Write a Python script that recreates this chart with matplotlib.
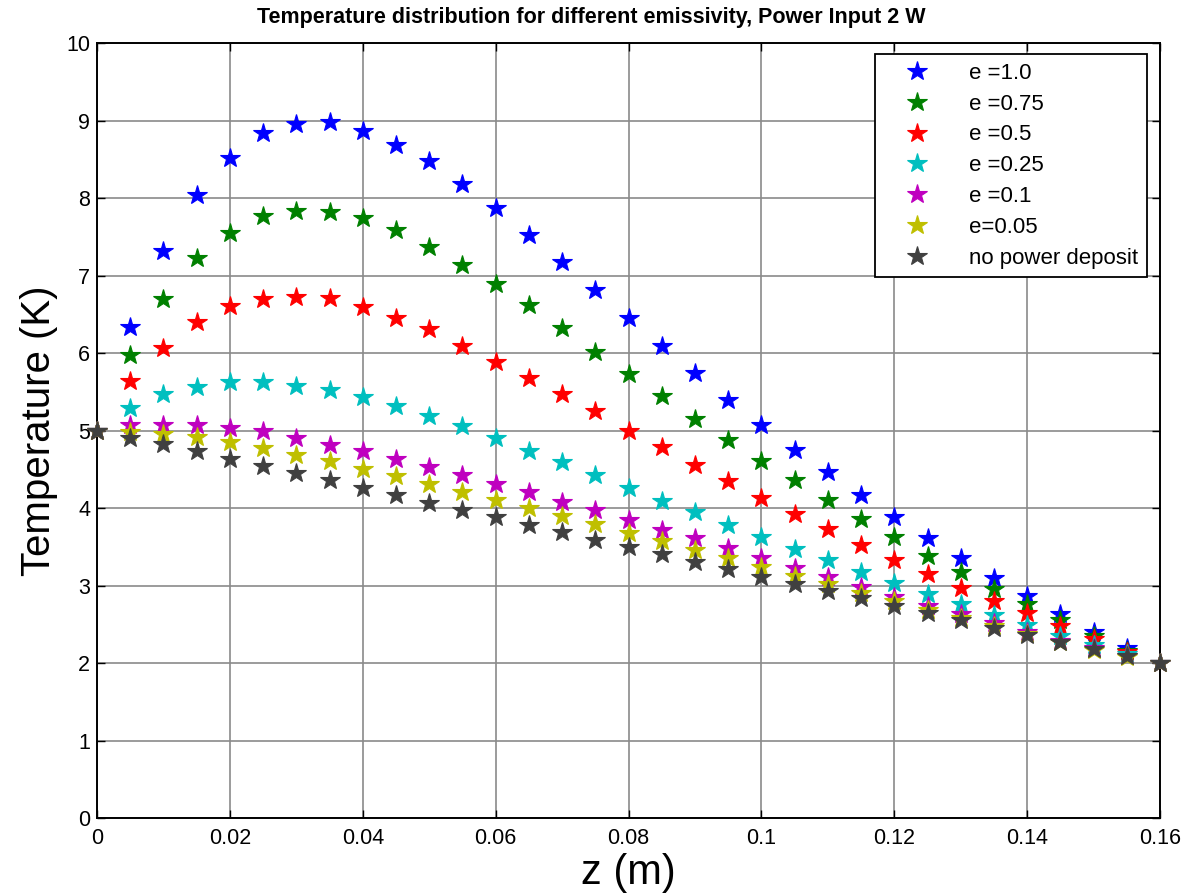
import numpy as np
import matplotlib
matplotlib.use("Agg")
import matplotlib.pyplot as plt

plt.rcParams['font.family'] = ['Liberation Sans', 'DejaVu Sans']

z = [0.0, 0.005, 0.01, 0.015, 0.02, 0.025, 0.03, 0.035, 0.04, 0.045, 0.05, 0.055,
     0.06, 0.065, 0.07, 0.075, 0.08, 0.085, 0.09, 0.095, 0.1, 0.105, 0.11, 0.115,
     0.12, 0.125, 0.13, 0.135, 0.14, 0.145, 0.15, 0.155, 0.16]

T_e100 = [5.0, 6.34, 7.32, 8.04, 8.52, 8.84, 8.95, 8.98, 8.86, 8.68, 8.48, 8.18,
          7.87, 7.52, 7.17, 6.81, 6.45, 6.09, 5.74, 5.39, 5.07, 4.75, 4.46, 4.17,
          3.88, 3.61, 3.35, 3.10, 2.86, 2.63, 2.40, 2.19, 2.0]
T_e075 = [5.0, 5.97, 6.70, 7.23, 7.55, 7.77, 7.83, 7.82, 7.74, 7.59, 7.37, 7.14,
          6.89, 6.62, 6.32, 6.01, 5.73, 5.45, 5.15, 4.88, 4.61, 4.36, 4.10, 3.86,
          3.62, 3.38, 3.17, 2.96, 2.76, 2.56, 2.35, 2.16, 2.0]
T_e050 = [5.0, 5.64, 6.06, 6.40, 6.61, 6.70, 6.72, 6.71, 6.59, 6.45, 6.31, 6.09,
          5.88, 5.68, 5.47, 5.25, 4.99, 4.79, 4.55, 4.35, 4.13, 3.92, 3.73, 3.52,
          3.33, 3.15, 2.97, 2.80, 2.64, 2.48, 2.31, 2.14, 2.0]
T_e025 = [5.0, 5.29, 5.47, 5.56, 5.63, 5.63, 5.57, 5.52, 5.43, 5.32, 5.19, 5.06,
          4.90, 4.74, 4.59, 4.43, 4.26, 4.09, 3.95, 3.78, 3.63, 3.47, 3.33, 3.17,
          3.03, 2.89, 2.76, 2.62, 2.49, 2.35, 2.23, 2.12, 2.0]
T_e010 = [5.0, 5.07, 5.07, 5.07, 5.03, 4.99, 4.90, 4.81, 4.74, 4.63, 4.53, 4.43,
          4.31, 4.21, 4.08, 3.97, 3.85, 3.72, 3.61, 3.48, 3.35, 3.23, 3.11, 2.98,
          2.85, 2.74, 2.63, 2.52, 2.40, 2.28, 2.19, 2.09, 2.0]
T_e005 = [5.0, 4.98, 4.95, 4.92, 4.85, 4.77, 4.68, 4.61, 4.50, 4.41, 4.31, 4.21,
          4.10, 4.00, 3.90, 3.79, 3.68, 3.57, 3.46, 3.35, 3.24, 3.12, 3.02, 2.90,
          2.80, 2.68, 2.58, 2.48, 2.37, 2.27, 2.17, 2.08, 2.0]
T_none = [5.0, 4.90, 4.83, 4.74, 4.63, 4.54, 4.45, 4.36, 4.26, 4.17, 4.06, 3.97,
          3.88, 3.78, 3.69, 3.59, 3.50, 3.41, 3.30, 3.21, 3.11, 3.02, 2.93, 2.84,
          2.74, 2.65, 2.55, 2.45, 2.36, 2.27, 2.18, 2.09, 2.0]

labels = ["e =1.0", "e =0.75", "e =0.5", "e =0.25", "e =0.1", "e=0.05", "no power deposit"]
colors = [(0, 0, 1), (0, 0.5, 0), (1, 0, 0), (0, 0.75, 0.75), (0.75, 0, 0.75),
          (0.75, 0.75, 0), (0.25, 0.25, 0.25)]
series = [T_e100, T_e075, T_e050, T_e025, T_e010, T_e005, T_none]

xticks = [0, 0.02, 0.04, 0.06, 0.08, 0.1, 0.12, 0.14, 0.16]
xticklabels = ["0", "0.02", "0.04", "0.06", "0.08", "0.1", "0.12", "0.14", "0.16"]
yticks = list(range(0, 11))

fig = plt.figure(figsize=(11.83, 8.96), dpi=100)
ax = fig.add_axes([0.082, 0.087, 0.8986, 0.865])

for T, c, lab in zip(series, colors, labels):
    ax.plot(z, T, linestyle='none', marker='*', markersize=15, color=c,
            markeredgecolor=c, markeredgewidth=0.8, label=lab, clip_on=False, zorder=3)

ax.set_xlim(0, 0.16)
ax.set_ylim(0, 10)
ax.set_xticks(xticks)
ax.set_xticklabels(xticklabels)
ax.set_yticks(yticks)
ax.tick_params(direction='in', top=True, right=True, labelsize=15.5, length=6, width=1)
ax.tick_params(axis='x', pad=7)
ax.tick_params(axis='y', pad=5)
ax.grid(True, color='#8a8a8a', linewidth=1.2)
ax.set_axisbelow(True)
for s in ax.spines.values():
    s.set_linewidth(1.4)

ax.set_xlabel("z (m)", fontsize=30, labelpad=3)
ax.set_ylabel("Temperature (K)", fontsize=29, labelpad=6)
fig.text(0.5, 1 - 17.0 / 896, "Temperature distribution for different emissivity, Power Input 2 W",
         fontsize=15.5, fontweight='bold', ha='center', va='center')

leg = ax.legend(loc='upper right', bbox_to_anchor=(0.9878, 0.9858), fontsize=16,
                fancybox=False, framealpha=1, edgecolor='black', borderpad=0.4,
                labelspacing=0.44, handlelength=3.0, handletextpad=0.85, borderaxespad=0)
leg.get_frame().set_linewidth(1.3)
leg.set_zorder(5)

fig.savefig("out.png", dpi=100)
